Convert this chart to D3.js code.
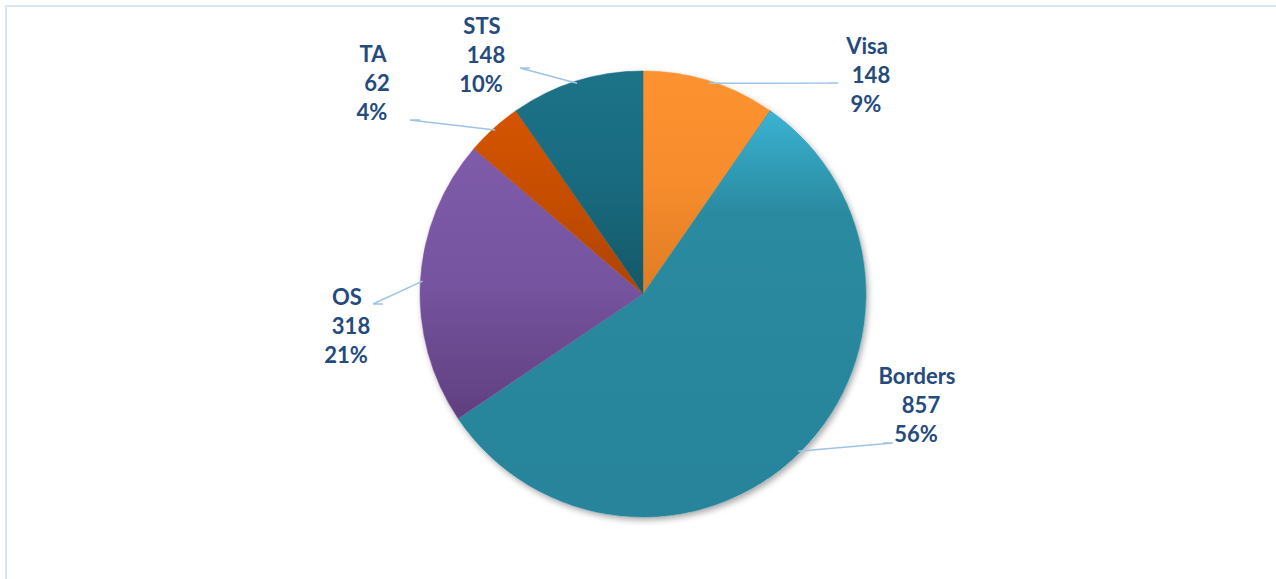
<!DOCTYPE html>
<html>
<head>
<meta charset="utf-8">
<script src="https://cdn.jsdelivr.net/npm/d3@7"></script>
<style>
  body { margin: 0; background: #fff; }
  .lbl { font-family: Lato, "Open Sans", sans-serif; font-weight: bold; font-size: 22px; fill: #254a7c; }
</style>
</head>
<body>
<div class="container"></div>
<script>
var WIDTH = 1276;
var height = 579;

var categories = ['Visa', 'Borders', 'OS', 'TA', 'STS'];
var values = [148, 857, 318, 62, 148];
var percents = ['9%', '56%', '21%', '4%', '10%'];

var topColors = ['#fd9230', '#3ab3d3', '#7f5bab', '#d45500', '#1c7388'];
var midColors = ['#f68c2c', '#2a8aa0', '#76549f', '#c54d00', '#196a7f'];
var botColors = ['#df7c24', '#27849a', '#603f80', '#ad4400', '#145868'];

// label centre (relative to pie centre) and leader-line elbow
var labelAt = [[224, -218], [274, 112], [-296, 33], [-270, -210], [-161, -238]];
var elbowAt = [[195, -211], [250, 149], [-270, 10], [-233, -174], [-123, -226]];

var translate = function (x, y) {
  return 'translate(' + x + ',' + y + ')';
};

var loadChart = function() {
  var cx = 643, cy = 294, radius = 223;

  var svg = d3.select('.container').append('svg')
      .attr('width', WIDTH)
      .attr('height', height);

  // frame
  svg.append('path')
      .attr('d', 'M6,' + height + 'V6H' + WIDTH)
      .attr('fill', 'none')
      .attr('stroke', '#dae6f4')
      .attr('stroke-width', 2);

  var defs = svg.append('defs');
  var shadow = defs.append('filter').attr('id', 'shadow')
      .attr('x', '-10%').attr('y', '-10%').attr('width', '120%').attr('height', '120%');
  shadow.append('feDropShadow')
      .attr('dx', 2).attr('dy', 3).attr('stdDeviation', 3)
      .attr('flood-color', '#000').attr('flood-opacity', 0.35);

  var pie = d3.pie().sort(null).value(function(d) { return d; });
  var arcs = pie(values);
  var arc = d3.arc().innerRadius(0).outerRadius(radius);

  arcs.forEach(function(a, i) {
    var g = defs.append('linearGradient')
        .attr('id', 'grad' + i)
        .attr('x1', 0).attr('y1', 0).attr('x2', 0).attr('y2', 1);
    g.append('stop').attr('offset', '0%').attr('stop-color', topColors[i]);
    g.append('stop').attr('offset', i === 1 ? '25%' : '50%').attr('stop-color', midColors[i]);
    g.append('stop').attr('offset', '100%').attr('stop-color', botColors[i]);
  });

  var chartGroup = svg.append('g').attr('transform', translate(cx, cy));

  chartGroup.append('circle')
      .attr('r', radius)
      .attr('fill', '#fff')
      .attr('filter', 'url(#shadow)');

  chartGroup.selectAll('path.slice')
      .data(arcs)
      .enter()
      .append('path')
      .attr('class', 'slice')
      .attr('d', arc)
      .attr('fill', function(d, i) { return 'url(#grad' + i + ')'; })
      .attr('stroke', function(d, i) { return midColors[i]; })
      .attr('stroke-width', 0.5);

  // leader lines
  chartGroup.selectAll('path.leader')
      .data(arcs)
      .enter()
      .append('path')
      .attr('class', 'leader')
      .attr('d', function(d, i) {
        var a = (d.startAngle + d.endAngle) / 2;
        var r = radius * 0.99;
        var e = elbowAt[i];
        var dirx = e[0] < labelAt[i][0] ? -1 : 1;
        return 'M' + (Math.sin(a) * r) + ',' + (-Math.cos(a) * r) +
               'L' + e[0] + ',' + e[1] + 'h' + (dirx * 10);
      })
      .attr('fill', 'none')
      .attr('stroke', '#9dc3e6')
      .attr('stroke-width', 1.5);

  var labels = chartGroup.selectAll('text.lbl')
      .data(arcs)
      .enter()
      .append('text')
      .attr('class', 'lbl')
      .attr('text-anchor', 'middle')
      .attr('transform', function(d, i) { return translate(labelAt[i][0], labelAt[i][1]); });

  labels.append('tspan').attr('x', 0).attr('y', -22)
      .text(function(d, i) { return categories[i]; });
  labels.append('tspan').attr('x', 4).attr('y', 7)
      .text(function(d, i) { return values[i]; });
  labels.append('tspan').attr('x', -1).attr('y', 36)
      .text(function(d, i) { return percents[i]; });
};

window.onload = loadChart;
</script>
</body>
</html>
